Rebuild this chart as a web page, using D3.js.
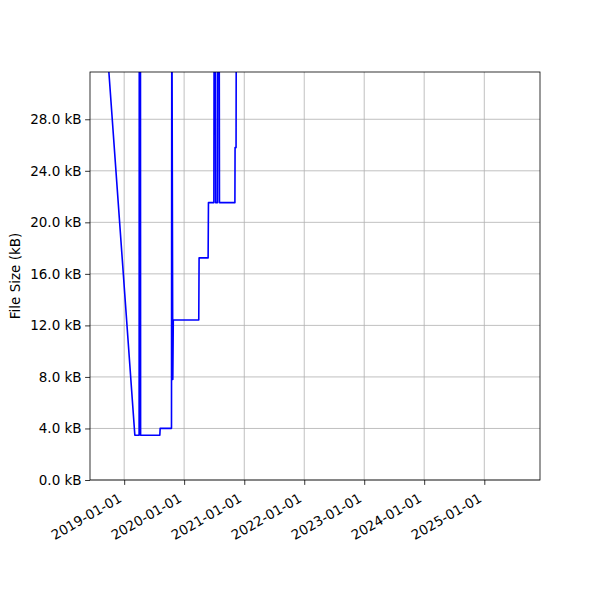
<!DOCTYPE html>
<html><head><meta charset="utf-8">
<script src="https://cdn.jsdelivr.net/npm/d3@7"></script>
<style>body{margin:0;background:#fff}svg{display:block}text{font-family:"DejaVu Sans",sans-serif}</style>
</head><body><svg id="c" width="600" height="600"></svg>
<script>
// Data: commit dates and file sizes (kB). Values above the visible range are clipped.
const dates = ["2018-08-31","2019-03-07","2019-04-02","2019-04-03","2019-04-10","2019-04-11",
  "2019-08-06","2019-08-08","2019-10-16","2019-10-18","2019-10-24","2019-10-27",
  "2020-03-30","2020-04-01","2020-05-26","2020-05-28","2020-06-30","2020-07-02",
  "2020-07-09","2020-07-11","2020-07-22","2020-07-24","2020-08-01","2020-08-03",
  "2020-11-05","2020-11-06","2020-11-12","2020-11-14"];
const sizes = [37.0,3.47,3.47,40,40,3.47,
  3.47,4.01,4.01,40,7.8,12.42,
  12.42,17.24,17.24,21.53,21.53,40,
  40,21.53,21.53,40,40,21.53,
  21.53,25.8,25.8,40];
const xTickLabels = ["2019-01-01","2020-01-01","2021-01-01","2022-01-01","2023-01-01","2024-01-01","2025-01-01"];
const yTicks = [0,4,8,12,16,20,24,28];
const xDomain = ["2018-06-07","2025-12-06"];
const yDomain = [0,31.67];

const parse = d3.utcParse("%Y-%m-%d");
const L=90,R=540,T=72,B=480;
const svg=d3.select("#c");
const x=d3.scaleUtc().domain(xDomain.map(parse)).range([L,R]);
const y=d3.scaleLinear().domain(yDomain).range([B,T]);
const data=dates.map((d,i)=>({d:parse(d),v:sizes[i]}));
const fs="13.5px";

// grid
svg.append("g").selectAll("line").data(xTickLabels).join("line")
  .attr("x1",d=>x(parse(d))).attr("x2",d=>x(parse(d))).attr("y1",T).attr("y2",B)
  .attr("stroke","#b0b0b0").attr("stroke-width",0.8);
svg.append("g").selectAll("line").data(yTicks).join("line")
  .attr("y1",d=>y(d)).attr("y2",d=>y(d)).attr("x1",L).attr("x2",R)
  .attr("stroke","#b0b0b0").attr("stroke-width",0.8);

// line
svg.append("clipPath").attr("id","clip").append("rect").attr("x",L).attr("y",T).attr("width",R-L).attr("height",B-T);
svg.append("path").datum(data).attr("clip-path","url(#clip)")
  .attr("d",d3.line().x(d=>x(d.d)).y(d=>y(d.v)))
  .attr("fill","none").attr("stroke","#0000ff").attr("stroke-width",1.6).attr("stroke-linejoin","round");

// axes
const xa=d3.axisBottom(x).tickValues(xTickLabels.map(parse)).tickFormat(d3.utcFormat("%Y-%m-%d")).tickSize(4.9).tickPadding(3.5);
const gx=svg.append("g").attr("transform",`translate(0,${B})`).call(xa);
gx.select(".domain").remove();
gx.selectAll("line").attr("stroke","#000").attr("stroke-width",0.8);
gx.selectAll(".tick text").attr("font-size",fs).attr("fill","#000").attr("font-family","DejaVu Sans")
  .attr("text-anchor","end").attr("x",0).attr("y",0).attr("dy",0)
  .attr("transform","translate(-2,21) rotate(-30)");

const ya=d3.axisLeft(y).tickValues(yTicks).tickFormat(d=>d3.format(".1f")(d)+" kB").tickSize(4.9).tickPadding(3.5);
const gy=svg.append("g").attr("transform",`translate(${L},0)`).call(ya);
gy.select(".domain").remove();
gy.selectAll("line").attr("stroke","#000").attr("stroke-width",0.8);
gy.selectAll("text").attr("font-size",fs).attr("fill","#000").attr("font-family","DejaVu Sans");

svg.append("rect").attr("x",L).attr("y",T).attr("width",R-L).attr("height",B-T)
  .attr("fill","none").attr("stroke","#000").attr("stroke-width",0.8);

svg.append("text").attr("transform",`translate(20,${(T+B)/2}) rotate(-90)`)
  .attr("text-anchor","middle").attr("font-size",fs).text("File Size (kB)");
</script></body></html>
